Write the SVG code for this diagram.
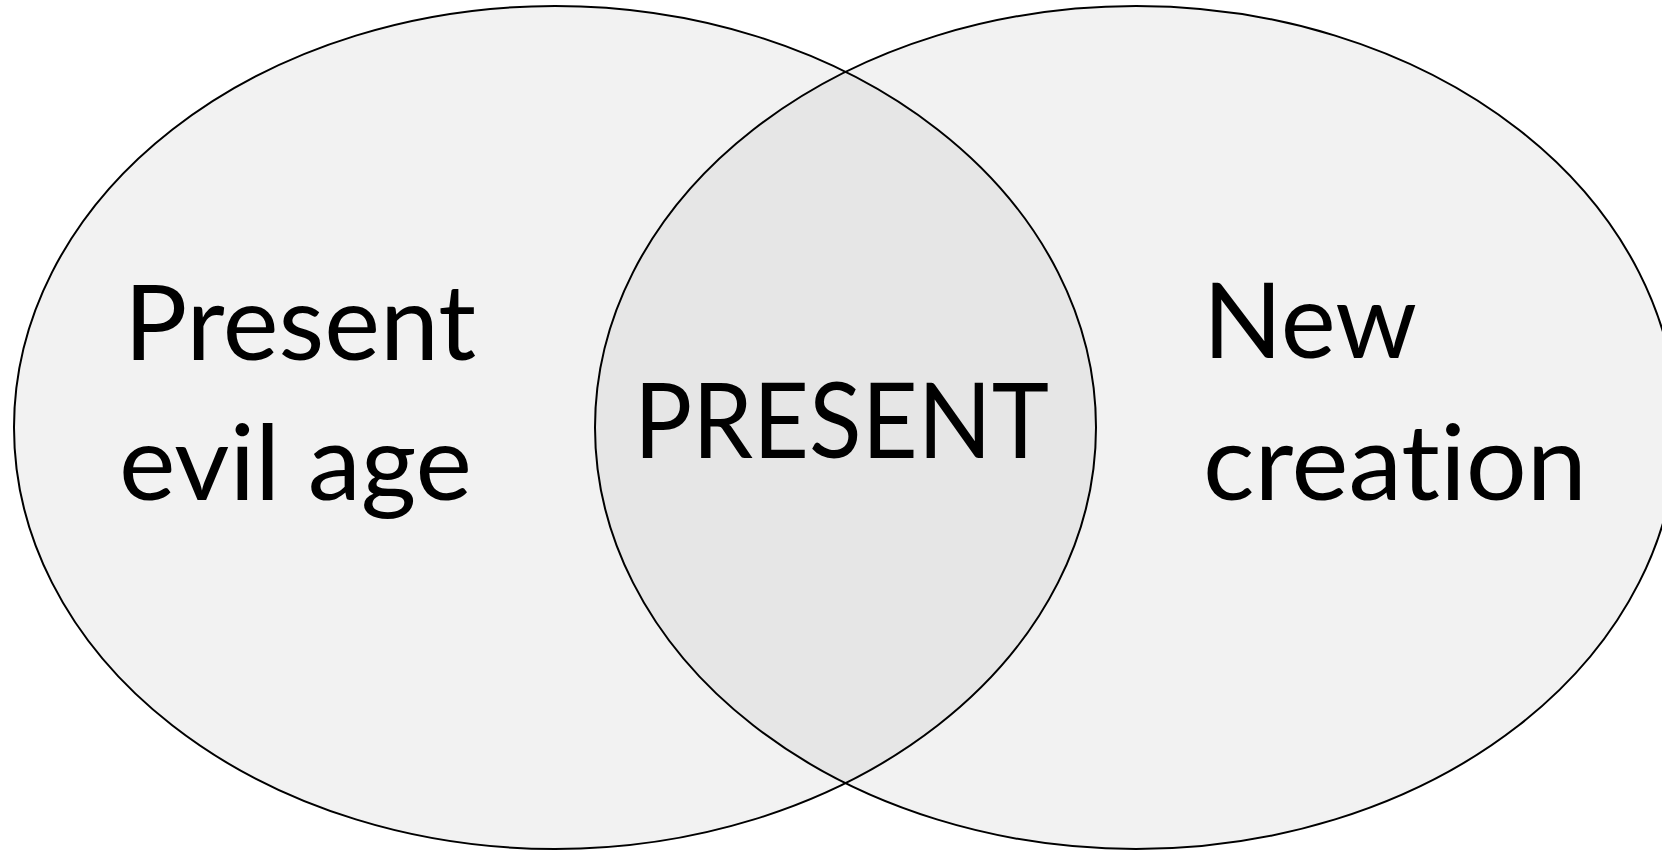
<svg xmlns="http://www.w3.org/2000/svg" width="1662" height="850" viewBox="0 0 1662 850">
<style>
.lbl{font-family:Lato,"Open Sans","Liberation Sans",sans-serif;font-size:104px;fill:#000;font-variant-ligatures:none}
.edge{fill:none;stroke:#000;stroke-width:2}
</style>
<defs>
<clipPath id="clipL"><ellipse cx="555" cy="427.5" rx="541" ry="421.5"/></clipPath>
</defs>
<rect width="1662" height="850" fill="#fff"/>
<g id="left-circle">
<ellipse cx="555" cy="427.5" rx="541" ry="421.5" fill="#f2f2f2"/>
</g>
<g id="right-circle">
<ellipse cx="1136" cy="427.5" rx="541" ry="421.5" fill="#f2f2f2"/>
</g>
<g id="overlap">
<ellipse cx="1136" cy="427.5" rx="541" ry="421.5" fill="#e6e6e6" clip-path="url(#clipL)"/>
</g>
<g id="outlines">
<ellipse class="edge" cx="555" cy="427.5" rx="541" ry="421.5"/>
<ellipse class="edge" cx="1136" cy="427.5" rx="541" ry="421.5"/>
</g>
<g id="label-left">
<text class="lbl" x="124" y="360" textLength="352" lengthAdjust="spacingAndGlyphs">Present</text>
<text class="lbl" x="119" y="500" textLength="353" lengthAdjust="spacingAndGlyphs">evil age</text>
</g>
<g id="label-center">
<text class="lbl" x="634" y="458" textLength="415" lengthAdjust="spacingAndGlyphs">PRESENT</text>
</g>
<g id="label-right">
<text class="lbl" x="1203" y="358" textLength="214" lengthAdjust="spacingAndGlyphs">New</text>
<text class="lbl" x="1203" y="500" textLength="384" lengthAdjust="spacingAndGlyphs">creation</text>
</g>
</svg>
